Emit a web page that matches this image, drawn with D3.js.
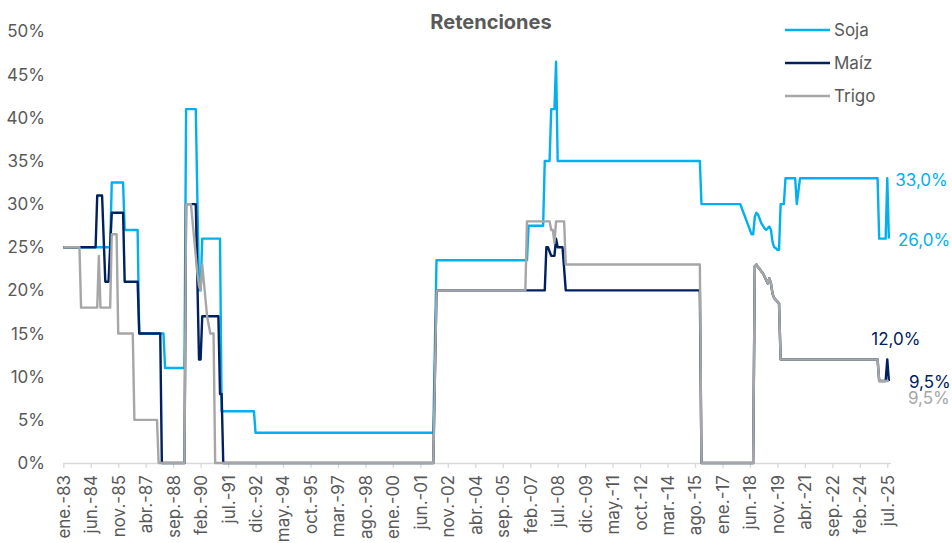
<!DOCTYPE html>
<html lang="es">
<head>
<meta charset="utf-8">
<title>Retenciones</title>
<script src="https://cdn.jsdelivr.net/npm/d3@7"></script>
<style>
  html, body { margin: 0; padding: 0; background: #ffffff; }
  svg { display: block; font-family: Inter, "Noto Sans", sans-serif; }
</style>
</head>
<body>
<svg id="chart" width="952" height="543"></svg>
<script>
// Export duty rates (%), as [month, rate] vertices of each series
const soja = [
  ["1983-01", 25], ["1985-06", 25], ["1985-07", 32.5], ["1986-02", 32.5], ["1986-03", 27],
  ["1986-11", 27], ["1986-12", 15], ["1988-03", 15], ["1988-04", 11], ["1989-04", 11],
  ["1989-05", 41], ["1989-11", 41], ["1990-01", 20], ["1990-02", 20], ["1990-03", 26],
  ["1991-02", 26], ["1991-03", 6], ["1992-11", 6], ["1992-12", 3.5], ["2002-02", 3.5],
  ["2002-03", 13.5], ["2002-04", 23.5], ["2006-12", 23.5], ["2007-01", 27.5], ["2007-10", 27.5],
  ["2007-11", 35], ["2008-02", 35], ["2008-03", 41], ["2008-05", 41], ["2008-06", 46.5],
  ["2008-07", 35], ["2015-11", 35], ["2015-12", 30], ["2017-12", 30], ["2018-01", 29.5],
  ["2018-02", 29], ["2018-03", 28.5], ["2018-04", 28], ["2018-05", 27.5], ["2018-06", 27],
  ["2018-07", 26.5], ["2018-08", 26.5], ["2018-09", 28.5], ["2018-10", 29], ["2018-11", 28.8],
  ["2018-12", 28.3], ["2019-01", 27.8], ["2019-02", 27.5], ["2019-03", 27.2], ["2019-04", 27],
  ["2019-05", 27.2], ["2019-06", 27.4], ["2019-07", 27], ["2019-08", 25.6], ["2019-09", 25],
  ["2019-10", 24.9], ["2019-11", 24.7], ["2019-12", 24.7], ["2020-01", 30], ["2020-03", 30],
  ["2020-04", 33], ["2020-10", 33], ["2020-11", 30], ["2020-12", 31.5], ["2021-01", 33],
  ["2025-01", 33], ["2025-02", 26], ["2025-06", 26], ["2025-07", 33], ["2025-08", 26]
];

const maiz = [
  ["1983-01", 25], ["1984-09", 25], ["1984-10", 31], ["1985-01", 31], ["1985-03", 21],
  ["1985-05", 21], ["1985-07", 29], ["1986-02", 29], ["1986-03", 21], ["1986-11", 21],
  ["1986-12", 15], ["1988-01", 15], ["1988-02", 0], ["1989-04", 0], ["1989-05", 30],
  ["1989-11", 30], ["1990-01", 12], ["1990-02", 12], ["1990-03", 17], ["1991-01", 17],
  ["1991-02", 8], ["1991-03", 8], ["1991-04", 0], ["2002-02", 0], ["2002-03", 10],
  ["2002-04", 20], ["2007-11", 20], ["2007-12", 25], ["2008-01", 25], ["2008-03", 24],
  ["2008-05", 24], ["2008-06", 26], ["2008-07", 25], ["2008-10", 25], ["2008-12", 20],
  ["2015-11", 20], ["2015-12", 0], ["2018-08", 0], ["2018-09", 22.8], ["2018-10", 23],
  ["2018-11", 22.7], ["2018-12", 22.5], ["2019-01", 22.2], ["2019-02", 22], ["2019-03", 21.6],
  ["2019-04", 21.2], ["2019-05", 20.8], ["2019-06", 21.4], ["2019-07", 20.8], ["2019-08", 19.6],
  ["2019-09", 19.1], ["2019-10", 18.9], ["2019-11", 18.7], ["2019-12", 18.5], ["2020-01", 12],
  ["2025-01", 12], ["2025-02", 9.5], ["2025-06", 9.5], ["2025-07", 12], ["2025-08", 9.5]
];

const trigo = [
  ["1983-01", 25], ["1983-11", 25], ["1983-12", 18], ["1984-10", 18], ["1984-11", 24],
  ["1984-12", 18], ["1985-06", 18], ["1985-07", 26.5], ["1985-10", 26.5], ["1985-11", 15],
  ["1986-08", 15], ["1986-09", 5], ["1987-11", 5], ["1987-12", 0], ["1989-04", 0],
  ["1989-05", 30], ["1989-08", 30], ["1989-09", 28], ["1989-10", 26], ["1989-11", 24],
  ["1989-12", 22], ["1990-01", 20.5], ["1990-02", 20], ["1990-03", 23], ["1990-04", 21],
  ["1990-05", 19], ["1990-06", 17], ["1990-07", 16], ["1990-08", 15], ["1990-10", 15],
  ["1990-11", 0], ["2002-02", 0], ["2002-03", 10], ["2002-04", 20], ["2006-11", 20],
  ["2006-12", 28], ["2008-02", 28], ["2008-03", 27], ["2008-04", 27], ["2008-05", 25.5],
  ["2008-06", 28], ["2008-11", 28], ["2008-12", 23], ["2015-11", 23], ["2015-12", 0],
  ["2018-08", 0], ["2018-09", 22.8], ["2018-10", 23], ["2018-11", 22.7], ["2018-12", 22.5],
  ["2019-01", 22.2], ["2019-02", 22], ["2019-03", 21.6], ["2019-04", 21.2], ["2019-05", 20.8],
  ["2019-06", 21.4], ["2019-07", 20.8], ["2019-08", 19.6], ["2019-09", 19.1], ["2019-10", 18.9],
  ["2019-11", 18.7], ["2019-12", 18.5], ["2020-01", 12], ["2025-01", 12], ["2025-02", 9.5],
  ["2025-08", 9.5]
];

// Category labels shown every 17 months, starting at ene.-83
const tickLabels = [
  "ene.-83", "jun.-84", "nov.-85", "abr.-87", "sep.-88", "feb.-90", "jul.-91", "dic.-92",
  "may.-94", "oct.-95", "mar.-97", "ago.-98", "ene.-00", "jun.-01", "nov.-02", "abr.-04",
  "sep.-05", "feb.-07", "jul.-08", "dic.-09", "may.-11", "oct.-12", "mar.-14", "ago.-15",
  "ene.-17", "jun.-18", "nov.-19", "abr.-21", "sep.-22", "feb.-24", "jul.-25"
];
const tickStep = 17;
const yTicks = [0, 5, 10, 15, 20, 25, 30, 35, 40, 45, 50];

const seriesNames = ["Soja", "Maíz", "Trigo"];
const seriesColors = ["#00b0f0", "#002060", "#a6a6a6"];

const svg = d3.select("#chart");
const textColor = "#595959";

// month index counted from January 1983
const parseMonth = d3.timeParse("%Y-%m");
const monthIndex = s => {
  const t = parseMonth(s);
  return (t.getFullYear() - 1983) * 12 + t.getMonth();
};
const toPoints = arr => arr.map(([m, v]) => ({ m: monthIndex(m), v }));
const series = [soja, maiz, trigo].map(toPoints);

const x = d3.scaleLinear().domain([0, 512]).range([63.3, 890.5]);
const y = d3.scaleLinear().domain([0, 50]).range([463, 31.5]);

// title
svg.append("text")
  .attr("x", 491).attr("y", 22).attr("dy", "0.35em")
  .attr("text-anchor", "middle")
  .style("font-size", "20px").style("font-weight", "700")
  .style("fill", textColor)
  .text("Retenciones");

// y axis (labels only)
const yAxis = svg.append("g")
  .attr("transform", "translate(48,0)")
  .call(d3.axisLeft(y).tickValues(yTicks).tickSize(0).tickPadding(3)
    .tickFormat(d => d + "%"));
yAxis.select(".domain").remove();
yAxis.selectAll("text")
  .style("font-family", "Inter, sans-serif")
  .style("font-size", "17px").style("fill", textColor);

// x axis
const xAxis = svg.append("g")
  .attr("transform", `translate(0,${y(0)})`)
  .call(d3.axisBottom(x)
    .tickValues(tickLabels.map((_, i) => i * tickStep))
    .tickSize(5).tickSizeOuter(0)
    .tickFormat((d, i) => tickLabels[i]));
xAxis.select(".domain").attr("stroke", "#d9d9d9").attr("stroke-width", 1.3);
xAxis.selectAll(".tick line").attr("stroke", "#d9d9d9").attr("stroke-width", 1.3);
xAxis.selectAll("text")
  .attr("transform", "rotate(-90)")
  .attr("x", -12).attr("y", 0).attr("dy", "0.35em")
  .style("text-anchor", "end")
  .style("font-family", "Inter, sans-serif")
  .style("font-size", "17px").style("fill", textColor);

// series lines
const line = d3.line().x(d => x(d.m)).y(d => y(d.v));
svg.append("g").selectAll("path")
  .data(series)
  .join("path")
  .attr("d", line)
  .attr("fill", "none")
  .attr("stroke", (d, i) => seriesColors[i])
  .attr("stroke-width", 2.4)
  .attr("stroke-linejoin", "round")
  .attr("stroke-linecap", "butt");

// legend
const legend = svg.append("g");
seriesNames.forEach((name, i) => {
  const ly = 30 + i * 33;
  legend.append("line")
    .attr("x1", 785).attr("x2", 830).attr("y1", ly).attr("y2", ly)
    .attr("stroke", seriesColors[i]).attr("stroke-width", 2.4);
  legend.append("text")
    .attr("x", 834).attr("y", ly).attr("dy", "0.35em")
    .style("font-size", "17px").style("fill", textColor)
    .text(name);
});

// end-of-series value labels
const fmt = v => v.toFixed(1).replace(".", ",") + "%";
const [sP, mP, tP] = series;
const last = arr => arr[arr.length - 1];
const prev = arr => arr[arr.length - 2];
const endLabels = [
  { p: prev(sP), dx: 8, dy: 2, color: seriesColors[0] },
  { p: last(sP), dx: 9, dy: 1.5, color: seriesColors[0] },
  { p: prev(mP), dx: -16, dy: -20, color: seriesColors[1] },
  { p: last(mP), dx: 20, dy: 1.5, color: seriesColors[1] },
  { p: last(tP), dx: 19, dy: 17, color: seriesColors[2] }
];
svg.append("g").selectAll("text")
  .data(endLabels)
  .join("text")
  .attr("x", d => x(d.p.m) + d.dx)
  .attr("y", d => y(d.p.v) + d.dy)
  .attr("dy", "0.35em")
  .style("font-size", "17px")
  .style("fill", d => d.color)
  .text(d => fmt(d.p.v));
</script>
</body>
</html>
